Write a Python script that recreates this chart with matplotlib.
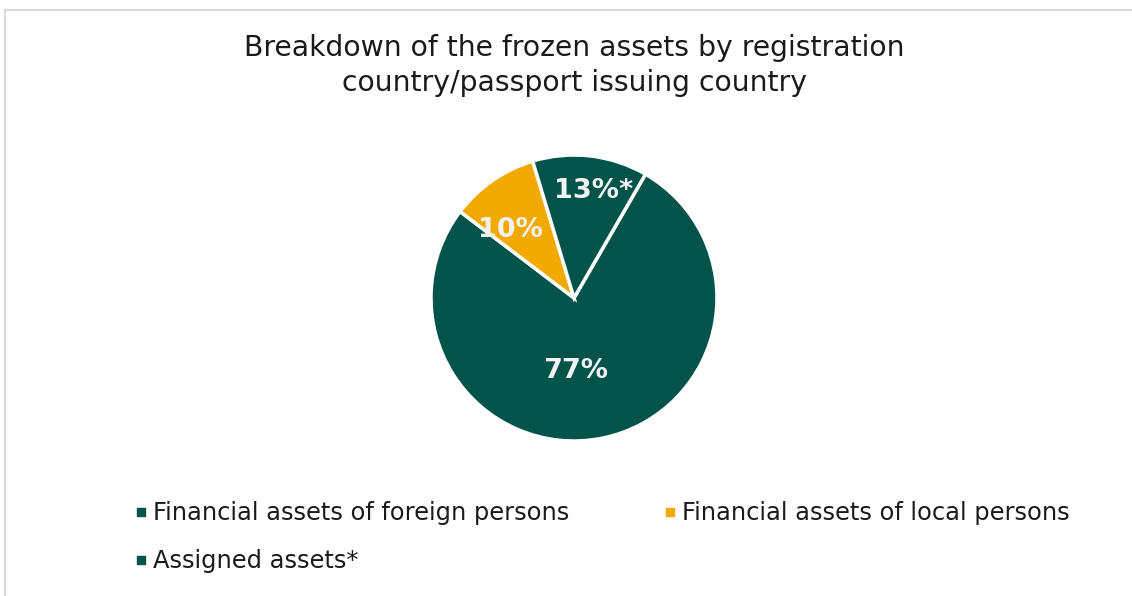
import matplotlib.pyplot as plt
from matplotlib.lines import Line2D
import numpy as np

plt.rcParams['font.family'] = ['DejaVu Sans']

# data
labels = ['Financial assets of foreign persons', 'Financial assets of local persons', 'Assigned assets*']
shares = [77, 10, 13]
pct_text = ['77%', '10%', '13%*']
colors = ['#02544B', '#F3AA00', '#02544B']

W, H = 1132, 596
fig = plt.figure(figsize=(W / 100, H / 100), dpi=100)
fig.patch.set_facecolor('white')

# light grey chart frame (top and left edges visible)
fig.add_artist(Line2D([5 / W, 5 / W], [0, 1 - 10 / H], color='#D9D9D9', lw=1.5))
fig.add_artist(Line2D([5 / W, 1], [1 - 10 / H, 1 - 10 / H], color='#D9D9D9', lw=1.5))

# pie axes: center (574, 298) px, radius 143 px
cx, cy, r = 574, 298, 143
ax = fig.add_axes([(cx - r) / W, (H - cy - r) / H, 2 * r / W, 2 * r / H])
wedges, _ = ax.pie(shares, colors=colors, startangle=60, counterclock=False,
                   radius=1, wedgeprops=dict(edgecolor='white', linewidth=2.5))
ax.set_xlim(-1.0, 1.0)
ax.set_ylim(-1.0, 1.0)
ax.set_aspect('equal')
ax.axis('off')

# label placement (radius fraction per slice, Excel "best fit")
lab_r = [0.51, 0.65, 0.76]
lab_shift = [-10.5, 8, -4]  # degrees off slice middle
for w, t, rr, sh in zip(wedges, pct_text, lab_r, lab_shift):
    ang = np.deg2rad((w.theta1 + w.theta2) / 2 + sh)
    ax.text(rr * np.cos(ang), rr * np.sin(ang), t, ha='center', va='center',
            fontsize=19.5, fontweight='bold', color='#F2F2F2')

fig.text(574 / W, 1 - 65.5 / H, 'Breakdown of the frozen assets by registration\ncountry/passport issuing country',
         ha='center', va='center', fontsize=20.3, color='#1a1a1a', linespacing=1.33)

# legend in row-major order like Excel
order = [0, 2, 1]
handles = [Line2D([], [], ls='none', marker='s', markersize=5.8, color=colors[i], label=labels[i])
           for i in order]
fig.legend(handles=handles, loc='upper left', bbox_to_anchor=(135 / W, 1 - 501 / H),
           ncol=2, frameon=False, fontsize=17.4, handlelength=0.5,
           handletextpad=0.25, columnspacing=3.9, labelspacing=1.0, borderpad=0,
           borderaxespad=0, labelcolor='#1a1a1a')

fig.savefig('out.png', dpi=100)
